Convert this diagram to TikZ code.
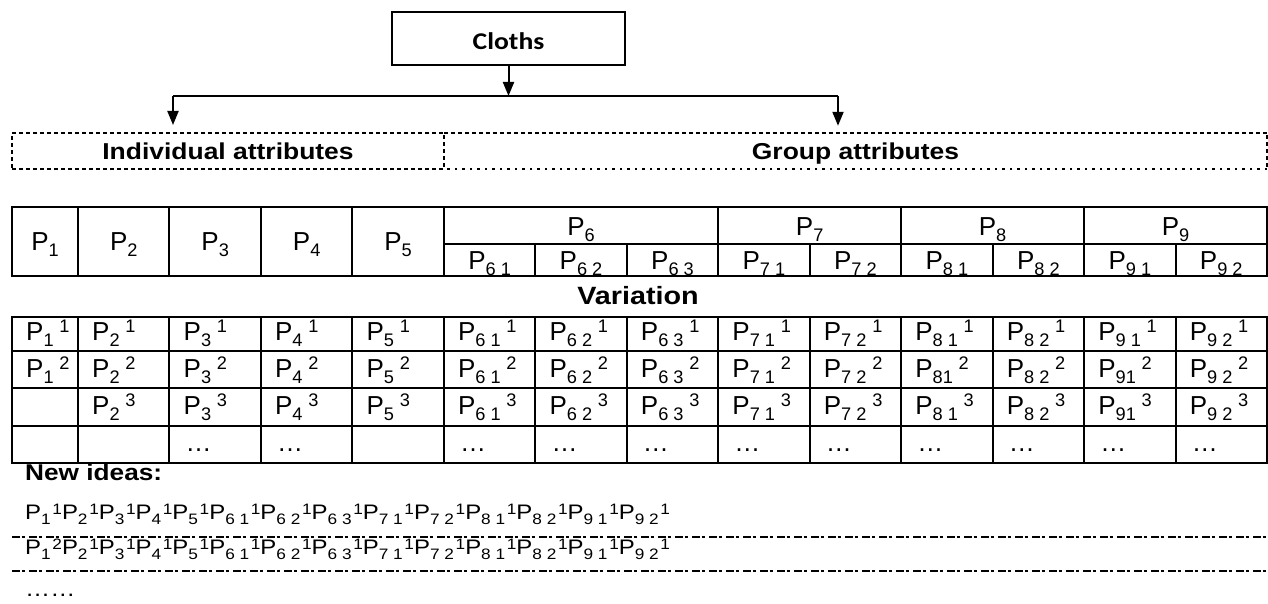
\documentclass[tikz,border=0pt]{standalone}
\usepackage{fontspec}
\usepackage{graphicx}
\setmainfont{Liberation Sans}
\newfontfamily\widefont[FakeStretch=1.15]{Liberation Sans}
\newfontfamily\ideafont[FakeStretch=1.14]{Liberation Sans}
\newfontfamily\calfont[FakeStretch=1.15]{Carlito}
\usetikzlibrary{arrows.meta}
\newcommand\PT[1]{P\raisebox{-0.26em}{\scalebox{0.7}{#1}}}
\newcommand\PV[2]{P\raisebox{-0.26em}{\scalebox{0.7}{#1}}\hspace{0.22em}\raisebox{0.3em}{\scalebox{0.7}{#2}}}
\newcommand\PI[2]{P\raisebox{-0.28em}{\scalebox{0.72}{#1}}\hspace{0.08em}\raisebox{0.22em}{\scalebox{0.72}{#2}}}
\begin{document}
\begin{tikzpicture}[x=1pt,y=-1pt,
  arr/.style={-{Triangle[length=14pt,width=11pt]}, line width=2pt},
  gridline/.style={line width=2pt},
  dashbox/.style={line width=2pt, dash pattern=on 4pt off 3pt},
  dotbox/.style={line width=2pt, dash pattern=on 2.5pt off 5pt},
  idealine/.style={line width=1.5pt, dash pattern=on 8pt off 1.5pt on 3pt off 4.5pt},
  cellP/.style={inner sep=0pt, font=\fontsize{26}{30}\selectfont},
  boldlab/.style={inner sep=0pt, font=\widefont\bfseries\fontsize{23}{27}\selectfont},
]
\useasboundingbox (0,0) rectangle (1268,604);

% top box and connectors
\node[draw, line width=2pt, minimum width=233pt, minimum height=53pt, inner sep=0pt,
      text height=23pt, text depth=0pt, font=\calfont\bfseries\fontsize{24}{28}\selectfont]
      (cloths) at (508.5,38.5) {Cloths};
\coordinate (bL) at (173,96);
\coordinate (bR) at (838,96);
\draw[gridline] (bL) -- (bR);
\draw[arr] (cloths.south) -- (cloths.south |- bL);

% dashed attribute boxes
\node[boldlab, draw, dashbox, minimum width=432pt, minimum height=36pt,
      text height=16.6pt, text depth=0pt] (ind) at (228,151) {Individual attributes};
\node[boldlab, minimum width=823pt, minimum height=36pt,
      text height=16.6pt, text depth=0pt] (grp) at (855.5,151) {Group attributes};
\draw[dashbox] (grp.north west) -- (grp.north east) -- (grp.south east);
\draw[dotbox] (grp.south east) -- (grp.south west);
\draw[arr, shorten >=7pt] (bL) -- (bL |- ind.north);
\draw[arr, shorten >=7pt] (bR) -- (bR |- grp.north);

% table 1
\draw[gridline] (12,207) rectangle (1267,276);
\foreach \x in {78,169.46,260.92,352.38,443.85,718.23,901.15,1084.08}
  \draw[gridline] (\x,207) -- (\x,276);
\draw[gridline] (443.85,244) -- (1267,244);
\foreach \x in {535.31,626.77,809.69,992.62,1175.54}
  \draw[gridline] (\x,244) -- (\x,276);
\foreach \s/\x [count=\k] in {1/45,2/123.73,3/215.19,4/306.65,5/398.12}
  \node[cellP, anchor=base] (t-\k) at (\x,250) {\PT{\s}};
\foreach \s/\x [count=\k] in {6/581.04,7/809.69,8/992.62,9/1175.54}
  \node[cellP, anchor=base] (h-\k) at (\x,235) {\PT{\s}};
\foreach \s/\x [count=\k] in {{6 1}/489.58,{6 2}/581.04,{6 3}/672.5,{7 1}/763.96,{7 2}/855.42,{8 1}/946.88,{8 2}/1038.35,{9 1}/1129.81,{9 2}/1221.27}
  \node[cellP, anchor=base] (s-\k) at (\x,269) {\PT{\s}};

% Variation
\node[inner sep=0pt, anchor=base, font=\widefont\bfseries\fontsize{25}{29}\selectfont] (var) at (638,304) {Variation};
\draw[gridline] (12,317) rectangle (1267,463);
\foreach \y in {351,388,426}
  \draw[gridline] (12,\y) -- (1267,\y);
\foreach \x in {78,169.46,260.92,352.38,443.85,535.31,626.77,718.23,809.69,901.15,992.62,1084.08,1175.54}
  \draw[gridline] (\x,317) -- (\x,463);
\foreach \s [count=\k] in {1,2,3,4,5,{6 1},{6 2},{6 3},{7 1},{7 2},{8 1},{8 2},{9 1},{9 2}}{
  \pgfmathsetmacro\xx{ifthenelse(\k==1,12,78+91.4615*(\k-2))+14}
  \node[cellP, anchor=base west] (va-\k) at (\xx,340) {\PV{\s}{1}};
}
\foreach \s [count=\k] in {1,2,3,4,5,{6 1},{6 2},{6 3},{7 1},{7 2},81,{8 2},91,{9 2}}{
  \pgfmathsetmacro\xx{ifthenelse(\k==1,12,78+91.4615*(\k-2))+14}
  \node[cellP, anchor=base west] (vb-\k) at (\xx,377) {\PV{\s}{2}};
}
\foreach \s [count=\k from 2] in {2,3,4,5,{6 1},{6 2},{6 3},{7 1},{7 2},{8 1},{8 2},91,{9 2}}{
  \pgfmathsetmacro\xx{78+91.4615*(\k-2)+14}
  \node[cellP, anchor=base west] (vc-\k) at (\xx,414) {\PV{\s}{3}};
}
\foreach \k in {3,4,6,7,8,9,10,11,12,13,14}{
  \pgfmathsetmacro\xx{78+91.4615*(\k-2)+16}
  \node[cellP, anchor=base west] (vd-\k) at (\xx,451) {…};
}

% New ideas
\node[inner sep=0pt, anchor=base west, font=\widefont\bfseries\fontsize{22.8}{27}\selectfont] (ni) at (25,480) {New ideas:};
\node[inner sep=0pt, anchor=base west, font=\ideafont\fontsize{21}{25}\selectfont] (l1) at (25,519)
  {\PI{1}{1}\PI{2}{1}\PI{3}{1}\PI{4}{1}\PI{5}{1}\PI{6 1}{1}\PI{6 2}{1}\PI{6 3}{1}\PI{7 1}{1}\PI{7 2}{1}\PI{8 1}{1}\PI{8 2}{1}\PI{9 1}{1}\PI{9 2}{1}};
\coordinate (d1a) at (12,537); \coordinate (d1b) at (1268,537);
\draw[idealine] (d1a) -- (d1b);
\node[inner sep=0pt, anchor=base west, font=\ideafont\fontsize{21}{25}\selectfont] (l2) at (25,554)
  {\PI{1}{2}\PI{2}{1}\PI{3}{1}\PI{4}{1}\PI{5}{1}\PI{6 1}{1}\PI{6 2}{1}\PI{6 3}{1}\PI{7 1}{1}\PI{7 2}{1}\PI{8 1}{1}\PI{8 2}{1}\PI{9 1}{1}\PI{9 2}{1}};
\coordinate (d2a) at (12,571); \coordinate (d2b) at (1268,571);
\draw[idealine] (d2a) -- (d2b);
\node[inner sep=0pt, anchor=base west, font=\ideafont\fontsize{22}{26}\selectfont] (etc) at (25,596) {……};
\end{tikzpicture}
\end{document}
